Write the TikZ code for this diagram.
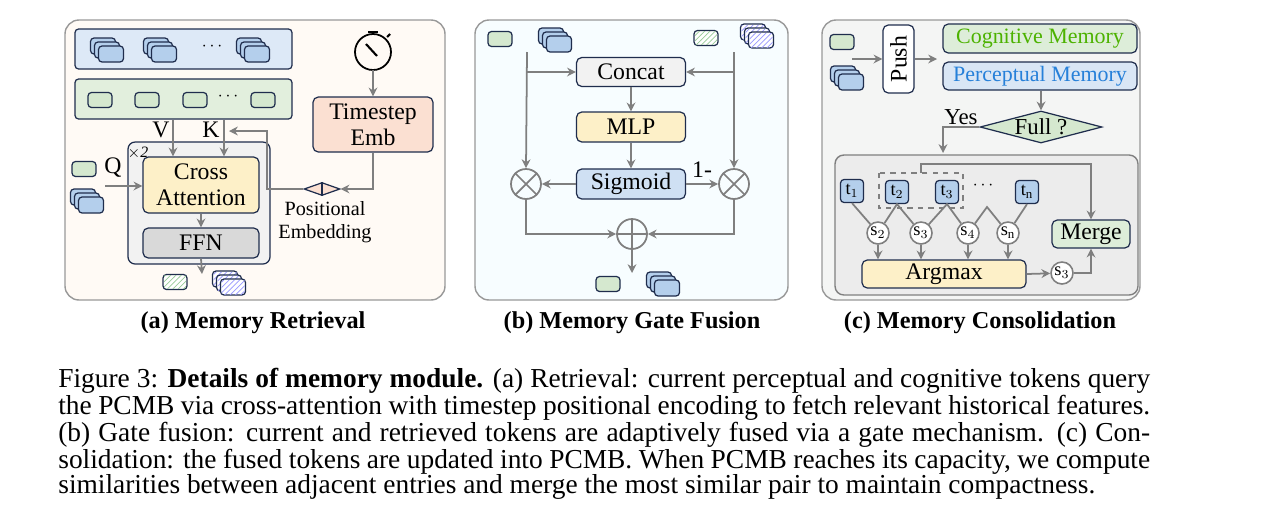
\documentclass[tikz,border=0pt]{standalone}
\usepackage{fontspec}
\setmainfont{Liberation Serif}
\usetikzlibrary{arrows.meta,shapes.geometric,patterns,positioning}
\definecolor{navy}{HTML}{1F2D4D}
\definecolor{argray}{HTML}{7F7F7F}
\definecolor{gfill}{HTML}{D5E8CF}
\definecolor{bfill}{HTML}{CFE0F3}
\definecolor{tfill}{HTML}{B4CFEC}
\definecolor{yfill}{HTML}{FDF0C8}
\definecolor{pfill}{HTML}{FBE0D2}
\tikzset{
  panel/.style={draw=argray!80, rounded corners=8pt, line width=0.8pt},
  box/.style={draw=navy, rounded corners=3pt, line width=0.7pt, align=center, inner sep=1pt, font=\fontsize{13.5}{15}\selectfont},
  tokst/.style={draw=navy, rounded corners=2pt, line width=0.7pt},
  arr/.style={draw=argray, line width=1pt, -{Stealth[length=5pt,width=5pt]}},
  ln/.style={draw=argray, line width=1pt},
  op/.style={circle, draw=argray, line width=1pt, minimum size=0.6cm, inner sep=0},
  sc/.style={circle, draw=argray, fill=white, line width=0.9pt, minimum size=0.44cm, inner sep=0, font=\fontsize{10.5}{10}\selectfont},
  tk/.style={draw=navy, fill=tfill, rounded corners=2pt, line width=0.7pt, minimum size=0.46cm, inner sep=0, font=\fontsize{10.5}{10}\selectfont},
  gtok/.pic={\draw[tokst, fill=gfill] (-12,-7.5) rectangle (12,7.5);},
  gtokh/.pic={\draw[tokst, fill=white] (-12,-7.5) rectangle (12,7.5);
    \fill[pattern=north east lines, pattern color=green!50!black!40] (-11,-6.5) rectangle (11,6.5);},
  bstk/.pic={\foreach \o in {-4,0,4}
    \draw[tokst, fill=tfill] (-12.5+\o,-8+\o) rectangle (12.5+\o,8+\o);},
  bstkh/.pic={\foreach \o in {-4,0,4}{
    \draw[tokst, fill=white] (-12.5+\o,-8+\o) rectangle (12.5+\o,8+\o);
    \fill[pattern=north east lines, pattern color=blue!40] (-11.5+\o,-7+\o) rectangle (11.5+\o,7+\o);}},
}
\begin{document}
\begin{tikzpicture}[x=0.02cm, y=-0.02cm]
  \useasboundingbox[fill=white] (0,0) rectangle (1280,525);
  % panels
  \draw[panel, fill=orange!4] (65,20) rectangle (445,300);
  \draw[panel, fill=blue!20!cyan!3!white] (475,20) rectangle (788,300);
  \draw[panel, fill=green!3!gray!8] (822,20) rectangle (1140,300);
  \node[font=\bfseries\fontsize{13.8}{15}\selectfont] (ta) at (253,323) {(a) Memory Retrieval};
  \node[font=\bfseries\fontsize{13.8}{15}\selectfont] (tb) at (632,323) {(b) Memory Gate Fusion};
  \node[font=\bfseries\fontsize{13.8}{15}\selectfont] (tc) at (980,323) {(c) Memory Consolidation};

  %% (a) retrieval
  \node[box, rounded corners=2pt, fill=bfill!70, minimum width=4.34cm, minimum height=0.8cm] (pbar) at (183.5,49) {};
  \node[box, rounded corners=2pt, fill=gfill!70, minimum width=4.34cm, minimum height=0.8cm] (gbar) at (183.5,99) {};
  \foreach \x in {107,160,253} \pic at (\x,50) {bstk};
  \node (pdots) at (212,47) {$\cdots$};
  \foreach \x in {100,147,195,263} \pic at (\x,100) {gtok};
  \node (gdots) at (228,97) {$\cdots$};
  % timer
  \draw[line width=1pt] (373,52) circle (18);
  \draw[line width=1.2pt] (368,32) -- (378,32);
  \draw[line width=1.5pt] (373,32) -- (373,34);
  \draw[line width=1.2pt] (387,37) -- (390,34);
  \draw[line width=1.2pt] (366,44) -- (377,56);
  \coordinate (tim) at (373,70);
  \node[box, fill=pfill, minimum width=2.4cm, minimum height=1.1cm] (ts) at (373,124.5) {Timestep\\Emb};
  \draw[arr] (tim) -- (ts.north);
  \node[draw=navy, rounded corners=4pt, line width=0.7pt, fill=gray!10, minimum width=2.84cm, minimum height=2.44cm] (rep) at (199,203) {};
  \node[font=\itshape\fontsize{9}{9}\selectfont] (rx) at (138,153) {$\times$2};
  \node[box, fill=yfill, minimum width=2.32cm, minimum height=1.12cm] (ca) at (201,185) {Cross\\Attention};
  \node[box, fill=gray!30, minimum width=2.32cm, minimum height=0.6cm] (ffn) at (201,243) {FFN};
  \draw[arr] (ca) -- (ffn);
  \draw[arr] (gbar.south -| 173,0) -- (ca.north -| 173,0);
  \draw[arr] (gbar.south -| 224,0) -- (ca.north -| 224,0);
  \node[font=\fontsize{13.5}{15}\selectfont] (lv) at (161,130) {V};
  \node[font=\fontsize{13.5}{15}\selectfont] (lk) at (211,130) {K};
  \node[diamond, draw=navy, fill=pfill, line width=0.7pt, minimum width=0.72cm, minimum height=0.26cm, inner sep=0] (pe) at (322,189) {};
  \draw[navy, line width=0.7pt] (pe.north) -- (pe.south);
  \node[align=center, font=\fontsize{11.5}{13}\selectfont] (pel) at (325,222) {Positional\\Embedding};
  \draw[arr] (ts.south) |- (pe.east);
  \draw[arr] (pe.west) -- (267,189) |- (229,131);
  \pic at (84,169) {gtok};
  \pic at (87,201) {bstk};
  \node[font=\fontsize{13.5}{15}\selectfont] (lq) at (113,168) {Q};
  \coordinate (qin) at (105,186);
  \draw[arr] (qin) -- (qin -| ca.west);
  \coordinate (aout) at (202,274);
  \draw[arr] (ffn.south) -- (aout);
  \pic at (175,282) {gtokh};
  \pic at (229,283) {bstkh};

  %% (b) gate fusion
  \pic at (500,39) {gtok};
  \pic at (555,40) {bstk};
  \pic at (706,38) {gtokh};
  \pic at (757,36) {bstkh};
  \node[box, fill=gray!10, minimum width=2.18cm, minimum height=0.58cm] (cc) at (631,72) {Concat};
  \node[box, fill=yfill, minimum width=2.18cm, minimum height=0.6cm] (mlp) at (631,127) {MLP};
  \node[box, fill=bfill, minimum width=2.18cm, minimum height=0.6cm] (sg) at (631,184) {Sigmoid};
  \node[op] (ml) at (526,184) {};
  \node[op] (mr) at (734,184) {};
  \draw[ln] (ml.north west) -- (ml.south east) (ml.north east) -- (ml.south west);
  \draw[ln] (mr.north west) -- (mr.south east) (mr.north east) -- (mr.south west);
  \node[op] (ad) at (632,234) {};
  \draw[ln] (ad.north) -- (ad.south) (ad.west) -- (ad.east);
  \coordinate (il) at (527,52);
  \coordinate (ir) at (734,52);
  \draw[arr] (il) -- (ml.north);
  \draw[arr] (ir) -- (mr.north);
  \draw[arr] (il |- cc) -- (cc.west);
  \draw[arr] (ir |- cc) -- (cc.east);
  \draw[arr] (cc) -- (mlp);
  \draw[arr] (mlp) -- (sg);
  \draw[arr] (sg) -- (ml);
  \draw[arr] (sg) -- node[above, font=\fontsize{13.5}{15}\selectfont] (om) {1-} (mr);
  \draw[arr] (ml.south) |- (ad.west);
  \draw[arr] (mr.south) |- (ad.east);
  \coordinate (bout) at (632,273);
  \draw[arr] (ad.south) -- (bout);
  \pic at (608,284) {gtok};
  \pic at (663,284) {bstk};

  %% (c) consolidation
  \pic at (842,42) {gtok};
  \pic at (847,78) {bstk};
  \node[box, minimum width=0.62cm, minimum height=1.36cm, fill=white] (push) at (898.5,59) {};
  \node[rotate=90, font=\fontsize{13.5}{15}\selectfont] (pusht) at (push) {Push};
  \coordinate (cin) at (852,59);
  \draw[arr] (cin) -- (push.west);
  \draw[arr] (push.east) -- (937,59);
  \node[box, fill=gfill!80, text=green!50!black!60!lime, font=\fontsize{12.5}{14}\selectfont, minimum width=3.88cm, minimum height=0.58cm] (cog) at (1040,38.5) {Cognitive Memory};
  \node[box, fill=bfill!80, text=blue!50!cyan!70!gray, font=\fontsize{12.5}{14}\selectfont, minimum width=3.88cm, minimum height=0.56cm] (per) at (1040,76) {Perceptual Memory};
  \node[diamond, draw=navy, fill=gfill, line width=0.7pt, aspect=3.8, minimum width=2.44cm, minimum height=0.64cm, inner sep=0, font=\fontsize{13}{14}\selectfont] (full) at (1041,127) {Full ?};
  \draw[arr] (per.south -| full.north) -- (full.north);
  \node[draw=argray, rounded corners=5pt, line width=0.8pt, fill=gray!15, minimum width=6.06cm, minimum height=2.8cm] (cons) at (986.5,225) {};
  \draw[arr] (full.west) -- (943,127) -- (943,153);
  \node[font=\fontsize{13}{14}\selectfont] (yes) at (961,117) {Yes};
  \node[tk] (t1) at (852,191) {t$_1$};
  \node[tk] (t2) at (897,192) {t$_2$};
  \node[tk] (t3) at (947,192) {t$_3$};
  \node (tdots) at (983,186) {$\cdots$};
  \node[tk] (tn) at (1027,192) {t$_\mathrm{n}$};
  \draw[argray, dashed, line width=0.9pt] (879,173) rectangle (963,208);
  \node[box, fill=gfill!80, minimum width=1.56cm, minimum height=0.56cm] (mg) at (1091,234) {Merge};
  \draw[arr] (921,173) -- (921,164) -| (mg.north);
  \node[sc] (s2) at (878,233) {s$_2$};
  \node[sc] (s3) at (921,233) {s$_3$};
  \node[sc] (s4) at (968,233) {s$_4$};
  \node[sc] (sn) at (1008,233) {s$_\mathrm{n}$};
  \coordinate (pk) at (987,207);
  \draw[ln] (t1.south) -- (s2) -- (t2.south) -- (s3) -- (t3.south) -- (s4) -- (pk) -- (sn) -- (tn.south);
  \node[box, fill=yfill, minimum width=3.28cm, minimum height=0.56cm] (am) at (944,274) {Argmax};
  \foreach \s in {s2,s3,s4,sn} \draw[arr] (\s) -- (\s |- am.north);
  \node[sc] (sel) at (1062,273) {s$_3$};
  \draw[arr] (am.east) -- (sel);
  \draw[arr] (sel.east) -| (mg.south);

  %% caption
  \node[anchor=north west, inner sep=0, text width=21.84cm, align=justify, font=\fontsize{15.6}{14.3}\selectfont] (cap) at (58,368) {Figure 3: \textbf{Details of memory module.} (a) Retrieval: current perceptual and cognitive tokens query\linebreak the PCMB via cross-attention with timestep positional encoding to fetch relevant historical features.\linebreak (b) Gate fusion: current and retrieved tokens are adaptively fused via a gate mechanism. (c) Con-\linebreak solidation: the fused tokens are updated into PCMB. When PCMB reaches its capacity, we compute\linebreak similarities between adjacent entries and merge the most similar pair to maintain compactness.};
\end{tikzpicture}
\end{document}
